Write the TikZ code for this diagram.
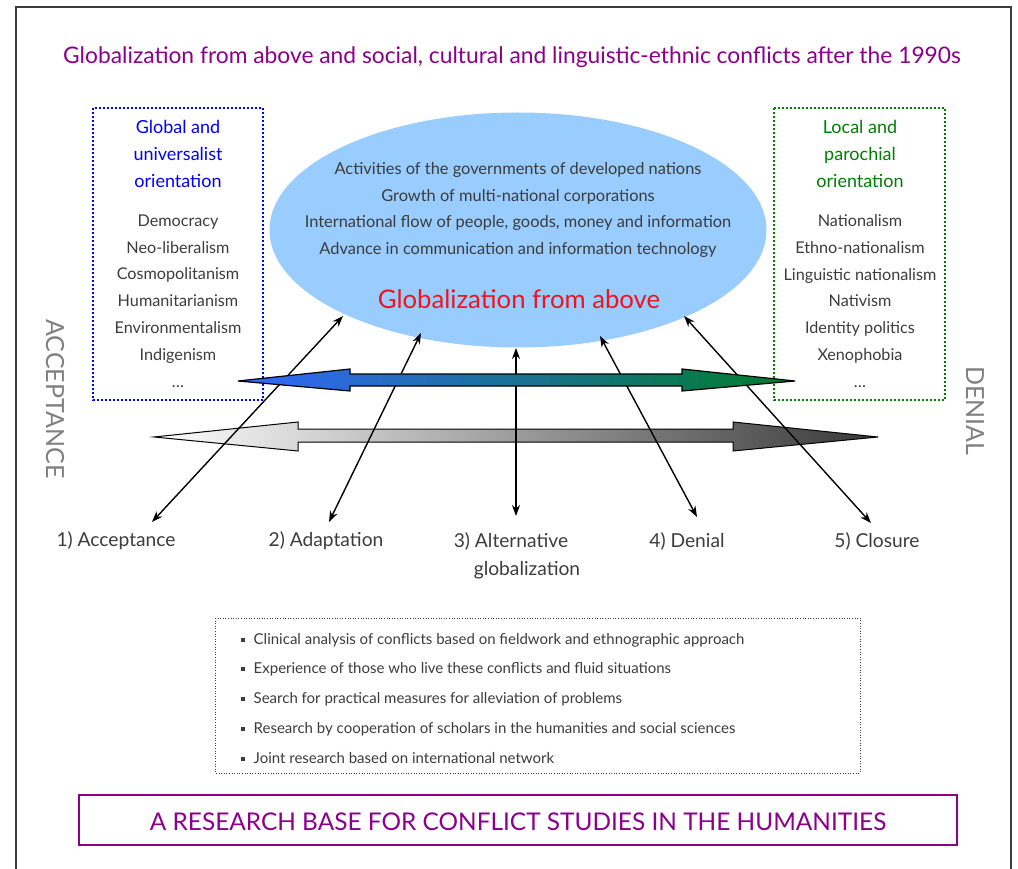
\documentclass[tikz,border=0pt]{standalone}
\usepackage{fontspec}
\setmainfont{Lato}
\usetikzlibrary{arrows.meta,shapes.geometric}
\definecolor{ttl}{RGB}{140,0,140}
\definecolor{txt}{RGB}{60,60,60}
\definecolor{ellblue}{RGB}{153,204,255}
\definecolor{hblue}{RGB}{0,0,255}
\definecolor{hgreen}{RGB}{0,128,0}
\definecolor{gred}{RGB}{240,20,30}
\definecolor{aleft}{RGB}{51,102,255}
\definecolor{aright}{RGB}{0,125,40}
\definecolor{frame}{RGB}{60,60,60}
\begin{document}
\begin{tikzpicture}[x=1pt,y=-1pt,
  body/.style={text=txt,font=\fontsize{16.4}{19}\selectfont,inner sep=0pt},
  listtxt/.style={text=txt,align=center,font=\fontsize{16.2}{26.8}\selectfont,inner sep=0pt},
  headtxt/.style={align=center,font=\fontsize{18}{27}\selectfont,inner sep=0pt},
  lbl/.style={text=txt,font=\fontsize{19.2}{22}\selectfont,inner sep=0pt},
  bul/.style={text=txt,font=\fontsize{15}{18}\selectfont,inner sep=0pt,anchor=west},
  conn/.style={line width=1.4pt,{Stealth[length=11pt,width=8pt]}-{Stealth[length=11pt,width=8pt]}},
  side/.style={text=gray,font=\fontsize{25}{27}\selectfont,inner sep=0pt,rotate=-90}
]
\useasboundingbox (0,0) rectangle (1018,869);
% outer frame
\draw[frame,line width=1.5pt] (16,875) -- (16,7) -- (1011,7) -- (1011,875);
% title
\node[text=ttl,font=\fontsize{22.8}{26}\selectfont,inner sep=0pt] (title) at (512,57)
  {Globalization from above and social, cultural and linguistic-ethnic conflicts after the 1990s};
% dotted side boxes
\draw[hblue,line width=1.8pt,dash pattern=on 1.8pt off 2.2pt] (93,108) rectangle (263,400);
\draw[hgreen,line width=1.8pt,dash pattern=on 1.8pt off 2.2pt] (774,108) rectangle (945,400);
\node[headtxt,text=hblue] (lh) at (178,154) {Global and\\universalist\\orientation};
\node[listtxt] (ll) at (178,301) {Democracy\\Neo-liberalism\\Cosmopolitanism\\Humanitarianism\\Environmentalism\\Indigenism\\\dots};
\node[headtxt,text=hgreen] (rh) at (860,154) {Local and\\parochial\\orientation};
\node[listtxt] (rl) at (860,301) {Nationalism\\Ethno-nationalism\\Linguistic nationalism\\Nativism\\Identity politics\\Xenophobia\\\dots};
% ellipse
\node[ellipse,fill=ellblue,minimum width=497pt,minimum height=235pt,inner sep=0pt] (ell) at (518,230) {};
\node[body] (e1) at (518,170) {Activities of the governments of developed nations};
\node[body] (e2) at (518,197) {Growth of multi-national corporations};
\node[body] (e3) at (518,223) {International flow of people, goods, money and information};
\node[body] (e4) at (518,250) {Advance in communication and information technology};
\node[text=gred,font=\fontsize{25.7}{30}\selectfont,inner sep=0pt] (gfa) at (519,299) {Globalization from above};
% gray double arrow
\shade[left color=white,right color=black!78,draw=black,line width=1pt]
  (154,437) -- (298,422) -- (298,429) -- (733,429) -- (733,422) -- (878,437)
  -- (733,451) -- (733,442) -- (298,442) -- (298,451) -- cycle;
% side labels
\node[side] (acc) at (55,399) {ACCEPTANCE};
\node[side] (den) at (975,411) {DENIAL};
% labels
\node[lbl] (l1) at (116,541) {1) Acceptance};
\node[lbl] (l2) at (326,541) {2) Adaptation};
\node[lbl] (l3) at (511,541) {3) Alternative};
\node[lbl] (l3b) at (527,570) {globalization};
\node[lbl] (l4) at (687,541) {4) Denial};
\node[lbl] (l5) at (877,541) {5) Closure};
% connector endpoints
\coordinate (t1) at (343,316); \coordinate (b1) at (152,522);
\coordinate (t2) at (421,333); \coordinate (b2) at (329,522);
\coordinate (t3) at (516,348); \coordinate (b3) at (516,516);
\coordinate (t4) at (600,336); \coordinate (b4) at (697,517);
\coordinate (t5) at (684,316); \coordinate (b5) at (871,523);
\foreach \i in {1,...,5} {\draw[conn] (b\i) -- (t\i);}
% blue-green double arrow
\shade[left color=aleft,right color=aright,draw=black,line width=1.2pt]
  (238,381) -- (350,369) -- (350,374) -- (682,374) -- (682,369) -- (795,381)
  -- (682,391) -- (682,386) -- (350,386) -- (350,391) -- cycle;
% bullet box
\draw[black!75,line width=1pt,dash pattern=on 1pt off 1.6pt] (215,618) rectangle (860,773);
\foreach \y/\t [count=\k] in {640/Clinical analysis of conflicts based on fieldwork and ethnographic approach,
  669/Experience of those who live these conflicts and fluid situations,
  699/Search for practical measures for alleviation of problems,
  729/Research by cooperation of scholars in the humanities and social sciences,
  758/Joint research based on international network} {
  \node[bul] (b\k) at (241,\y) {\rule[2.5pt]{3.5pt}{3.5pt}\hspace{9pt}\t};
}
% bottom box
\draw[ttl,line width=2pt] (79,795) rectangle (957,845);
\node[text=ttl,font=\fontsize{24.4}{28}\selectfont,inner sep=0pt] (base) at (518,822)
  {A RESEARCH BASE FOR CONFLICT STUDIES IN THE HUMANITIES};
\end{tikzpicture}
\end{document}
